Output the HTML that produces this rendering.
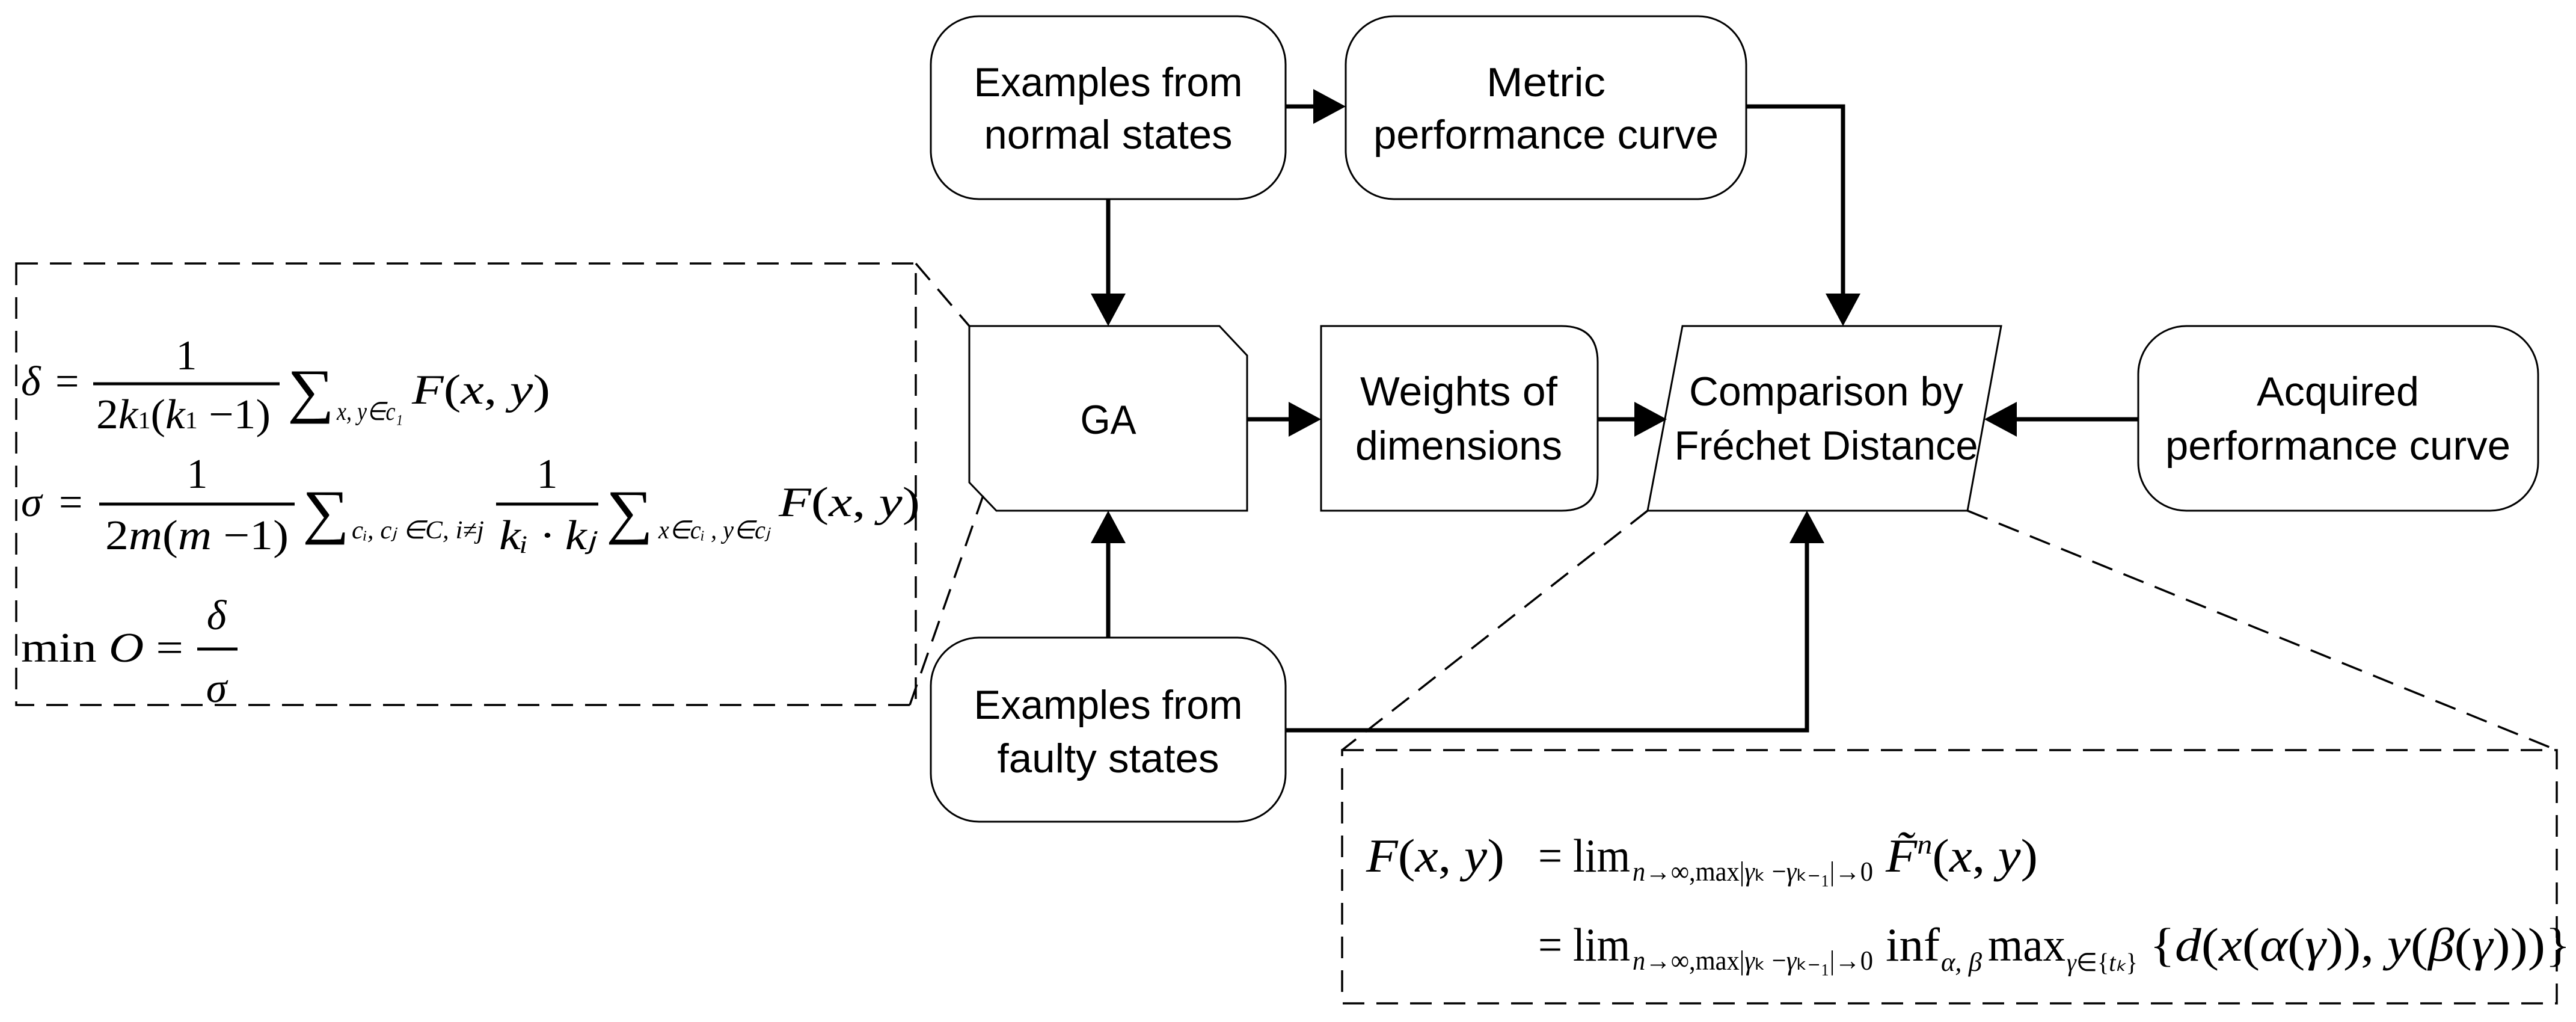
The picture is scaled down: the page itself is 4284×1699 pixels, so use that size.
<!DOCTYPE html>
<html><head><meta charset="utf-8"><style>
html,body{margin:0;padding:0;background:#fff;width:4284px;height:1699px;overflow:hidden}
svg{display:block}
.b{font-family:"Liberation Sans",sans-serif;font-size:68px;fill:#000}
.m{font-family:"Liberation Serif",serif;fill:#000}
.i{font-style:italic}
</style></head><body>
<svg width="4284" height="1699" viewBox="0 0 4284 1699" xmlns="http://www.w3.org/2000/svg">
<g fill="none" stroke="#000" stroke-width="3">
<rect x="1548" y="27" width="590" height="304" rx="80"/>
<rect x="2238" y="27" width="666" height="304" rx="80"/>
<rect x="1548" y="1060" width="590" height="306" rx="80"/>
<rect x="3556" y="542" width="665" height="307" rx="80"/>
<path d="M1612 542 H2028 L2074 591 V849 H1657 L1612 802 Z"/>
<path d="M2197 542 H2597 Q2657 542 2657 602 V789 Q2657 849 2597 849 H2197 Z"/>
<path d="M2798 542 H3328 L3272 849 H2740 Z"/>
</g>
<g stroke="#000" stroke-width="7" fill="none">
<line x1="2138" y1="177" x2="2190" y2="177"/>
<polyline points="2904,177 3065,177 3065,495"/>
<line x1="1843" y1="331" x2="1843" y2="495"/>
<line x1="1843" y1="1060" x2="1843" y2="896"/>
<line x1="2074" y1="697" x2="2150" y2="697"/>
<line x1="2657" y1="697" x2="2722" y2="697"/>
<line x1="3556" y1="697" x2="3348" y2="697"/>
<polyline points="2138,1214 3005,1214 3005,896"/>
</g>
<g fill="#000">
<polygon points="2238,177 2184,148 2184,206"/>
<polygon points="3065,542 3036,488 3094,488"/>
<polygon points="1843,542 1814,488 1872,488"/>
<polygon points="1843,849 1814,903 1872,903"/>
<polygon points="2197,697 2143,668 2143,726"/>
<polygon points="2772,697 2718,668 2718,726"/>
<polygon points="3300,697 3354,668 3354,726"/>
<polygon points="3005,849 2976,903 3034,903"/>
</g>
<g fill="none" stroke="#000" stroke-width="3.5" stroke-dasharray="36,20">
<rect x="27" y="438" width="1496" height="734"/>
<line x1="1523" y1="438" x2="1612" y2="542"/>
<line x1="1513" y1="1172" x2="1635" y2="824"/>
<rect x="2232" y="1247" width="2020" height="421"/>
<line x1="2740" y1="849" x2="2232" y2="1247"/>
<line x1="3272" y1="849" x2="4252" y2="1247"/>
</g>
<g class="b" text-anchor="middle">
<text x="1843" y="160" textLength="447" lengthAdjust="spacingAndGlyphs">Examples from</text>
<text x="1843" y="247" textLength="413" lengthAdjust="spacingAndGlyphs">normal states</text>
<text x="2571" y="160" textLength="198" lengthAdjust="spacingAndGlyphs">Metric</text>
<text x="2571" y="247" textLength="574" lengthAdjust="spacingAndGlyphs">performance curve</text>
<text x="1843" y="1195" textLength="447" lengthAdjust="spacingAndGlyphs">Examples from</text>
<text x="1843" y="1284" textLength="369" lengthAdjust="spacingAndGlyphs">faulty states</text>
<text x="1843" y="721" textLength="93" lengthAdjust="spacingAndGlyphs">GA</text>
<text x="2426" y="674" textLength="328" lengthAdjust="spacingAndGlyphs">Weights of</text>
<text x="2426" y="764" textLength="344" lengthAdjust="spacingAndGlyphs">dimensions</text>
<text x="3037" y="674" textLength="456" lengthAdjust="spacingAndGlyphs">Comparison by</text>
<text x="3037" y="764" textLength="505" lengthAdjust="spacingAndGlyphs">Fréchet Distance</text>
<text x="3888" y="674" textLength="270" lengthAdjust="spacingAndGlyphs">Acquired</text>
<text x="3888" y="764" textLength="574" lengthAdjust="spacingAndGlyphs">performance curve</text>
</g>
<g class="m" font-size="70">
<text x="35" y="657" class="i">δ</text><text x="92" y="657">=</text>
<line x1="155" y1="638" x2="465" y2="638" stroke="#000" stroke-width="5"/>
<text x="310" y="614" text-anchor="middle">1</text>
<text x="160" y="712" textLength="290" lengthAdjust="spacingAndGlyphs">2<tspan class="i">k</tspan><tspan font-size="40">1</tspan>(<tspan class="i">k</tspan><tspan font-size="40">1</tspan> −1)</text>
<text x="478" y="683" font-size="100" textLength="78" lengthAdjust="spacingAndGlyphs">∑</text>
<text x="560" y="698" font-size="42" class="i" textLength="110" lengthAdjust="spacingAndGlyphs">x, y∈c₁</text>
<text x="685" y="671" textLength="230" lengthAdjust="spacingAndGlyphs"><tspan class="i">F</tspan>(<tspan class="i">x</tspan>, <tspan class="i">y</tspan>)</text>

<text x="35" y="858" class="i">σ</text><text x="98" y="858">=</text>
<line x1="165" y1="838" x2="490" y2="838" stroke="#000" stroke-width="5"/>
<text x="328" y="811" text-anchor="middle">1</text>
<text x="175" y="913" textLength="305" lengthAdjust="spacingAndGlyphs">2<tspan class="i">m</tspan>(<tspan class="i">m</tspan> −1)</text>
<text x="503" y="884" font-size="100" textLength="78" lengthAdjust="spacingAndGlyphs">∑</text>
<text x="585" y="895" font-size="42" class="i" textLength="220" lengthAdjust="spacingAndGlyphs">cᵢ, cⱼ ∈C, i≠j</text>
<line x1="825" y1="838" x2="995" y2="838" stroke="#000" stroke-width="5"/>
<text x="910" y="811" text-anchor="middle">1</text>
<text x="830" y="913" class="i" textLength="160" lengthAdjust="spacingAndGlyphs">kᵢ · kⱼ</text>
<text x="1008" y="884" font-size="100" textLength="78" lengthAdjust="spacingAndGlyphs">∑</text>
<text x="1095" y="895" font-size="42" class="i" textLength="185" lengthAdjust="spacingAndGlyphs">x∈cᵢ , y∈cⱼ</text>
<text x="1295" y="858" textLength="235" lengthAdjust="spacingAndGlyphs"><tspan class="i">F</tspan>(<tspan class="i">x</tspan>, <tspan class="i">y</tspan>)</text>

<text x="35" y="1100" textLength="270" lengthAdjust="spacingAndGlyphs">min <tspan class="i">O</tspan> =</text>
<line x1="328" y1="1079" x2="395" y2="1079" stroke="#000" stroke-width="5"/>
<text x="360" y="1046" text-anchor="middle" class="i">δ</text>
<text x="360" y="1167" text-anchor="middle" class="i">σ</text>
</g>
<g class="m" font-size="78">
<text x="2272" y="1449" textLength="230" lengthAdjust="spacingAndGlyphs"><tspan class="i">F</tspan>(<tspan class="i">x</tspan>, <tspan class="i">y</tspan>)</text>
<text x="2558" y="1449" textLength="153" lengthAdjust="spacingAndGlyphs">= lim</text>
<text x="2715" y="1464" font-size="46" textLength="400" lengthAdjust="spacingAndGlyphs"><tspan class="i">n</tspan>→∞,max|<tspan class="i">γ</tspan>ₖ −<tspan class="i">γ</tspan>ₖ₋₁|→0</text>
<text x="3136" y="1449" textLength="253" lengthAdjust="spacingAndGlyphs"><tspan class="i">F̃</tspan><tspan font-size="46" dy="-30" class="i">n</tspan><tspan dy="30">(</tspan><tspan class="i">x</tspan>, <tspan class="i">y</tspan>)</text>
<text x="2558" y="1597" textLength="153" lengthAdjust="spacingAndGlyphs">= lim</text>
<text x="2715" y="1612" font-size="46" textLength="400" lengthAdjust="spacingAndGlyphs"><tspan class="i">n</tspan>→∞,max|<tspan class="i">γ</tspan>ₖ −<tspan class="i">γ</tspan>ₖ₋₁|→0</text>
<text x="3136" y="1597" textLength="90" lengthAdjust="spacingAndGlyphs">inf</text>
<text x="3228" y="1614" font-size="44" class="i" textLength="68" lengthAdjust="spacingAndGlyphs">α, β</text>
<text x="3306" y="1597" textLength="129" lengthAdjust="spacingAndGlyphs">max</text>
<text x="3437" y="1614" font-size="42" textLength="118" lengthAdjust="spacingAndGlyphs"><tspan class="i">γ</tspan>∈{<tspan class="i">tₖ</tspan>}</text>
<text x="3575" y="1597" textLength="700" lengthAdjust="spacingAndGlyphs">{<tspan class="i">d</tspan>(<tspan class="i">x</tspan>(<tspan class="i">α</tspan>(<tspan class="i">γ</tspan>)), <tspan class="i">y</tspan>(<tspan class="i">β</tspan>(<tspan class="i">γ</tspan>)))}</text>
</g>
</svg>
</body></html>
